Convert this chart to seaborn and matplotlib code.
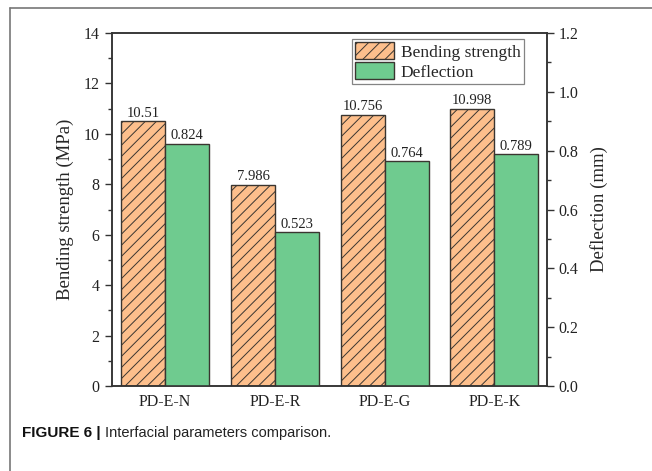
import matplotlib
matplotlib.use("Agg")
import matplotlib.pyplot as plt
from matplotlib.lines import Line2D
from matplotlib.patches import Patch
from matplotlib.ticker import MultipleLocator, FormatStrFormatter
import pandas as pd
import seaborn as sns

# Data
samples = ["PD-E-N", "PD-E-R", "PD-E-G", "PD-E-K"]
series = ["Bending strength", "Deflection"]
bending = [10.51, 7.986, 10.756, 10.998]      # MPa
deflection = [0.824, 0.523, 0.764, 0.789]     # mm

orange = "#FDBF8C"
green = "#6FCB8F"
edge = "#3A3530"
palette = {series[0]: orange, series[1]: green}

sns.set_theme(style="ticks")
plt.rcParams["font.family"] = ["Liberation Serif", "DejaVu Serif"]
plt.rcParams["hatch.color"] = "#6B4A2E"
plt.rcParams["hatch.linewidth"] = 0.7

df_b = pd.DataFrame({"sample": samples, "series": series[0], "value": bending})
df_d = pd.DataFrame({"sample": samples, "series": series[1], "value": deflection})

fig = plt.figure(figsize=(6.52, 4.71), dpi=100)
ax = fig.add_axes([111.5 / 652, 1 - 386 / 471, (547 - 111.5) / 652, (386 - 33) / 471])

sns.barplot(data=df_b, x="sample", y="value", hue="series", order=samples,
            hue_order=series, palette=palette, width=0.8, dodge=True,
            saturation=1, edgecolor=edge, linewidth=1.0, legend=False, ax=ax)
for p in ax.patches:
    p.set_hatch("///")

ax2 = ax.twinx()
sns.barplot(data=df_d, x="sample", y="value", hue="series", order=samples,
            hue_order=series, palette=palette, width=0.8, dodge=True,
            saturation=1, edgecolor=edge, linewidth=1.0, legend=False, ax=ax2)

for c in ax.containers:
    ax.bar_label(c, fmt="{:g}", padding=1, fontsize=10.5, color="#222222")
for c in ax2.containers:
    ax2.bar_label(c, fmt="{:g}", padding=1, fontsize=10.5, color="#222222")

ax.set_xlim(-0.49, 3.48)
ax.set_ylim(0, 14)
ax2.set_ylim(0, 1.2)
ax.yaxis.set_major_locator(MultipleLocator(2))
ax.yaxis.set_minor_locator(MultipleLocator(1))
ax2.yaxis.set_major_locator(MultipleLocator(0.2))
ax2.yaxis.set_minor_locator(MultipleLocator(0.1))
ax2.yaxis.set_major_formatter(FormatStrFormatter("%.1f"))

ax.set_xlabel("")
ax2.set_xlabel("")
ax.set_ylabel("Bending strength (MPa)", fontsize=13.5, labelpad=7)
ax2.set_ylabel("Deflection (mm)", fontsize=13.5, labelpad=8)

for a in (ax, ax2):
    for s in a.spines.values():
        s.set_visible(True)
        s.set_color("#333333")
        s.set_linewidth(1.1)
    a.tick_params(axis="y", which="major", direction="out", length=5, width=1.0,
                  labelsize=11.5, colors="#333333", labelcolor="#222222")
    a.tick_params(axis="y", which="minor", direction="out", length=3, width=1.0,
                  colors="#333333")
    a.tick_params(axis="x", length=0, labelsize=11.5, labelcolor="#222222", pad=6)

handles = [Patch(facecolor=orange, edgecolor=edge, hatch="///", label=series[0]),
           Patch(facecolor=green, edgecolor=edge, label=series[1])]
leg = ax2.legend(handles=handles, loc="upper left", bbox_to_anchor=(0.552, 0.983),
                 fontsize=12.5, frameon=True, fancybox=False, handlelength=2.25,
                 handleheight=1.1, handletextpad=0.35, borderpad=0.2,
                 labelspacing=0.1, borderaxespad=0)
leg.get_frame().set_edgecolor("#666666")
leg.get_frame().set_linewidth(0.9)

# Panel frame lines
fig.add_artist(Line2D([10 / 652, 1], [1 - 8 / 471, 1 - 8 / 471], color="#777777", lw=1.2))
fig.add_artist(Line2D([10 / 652, 10 / 652], [0, 1 - 8 / 471], color="#777777", lw=1.2))

# Caption
fig.text(22 / 652, 1 - 433 / 471, "FIGURE 6 |", fontsize=11, fontweight="bold",
         family=["Liberation Sans", "DejaVu Sans"], color="#111111", va="center")
fig.text(105 / 652, 1 - 433 / 471, "Interfacial parameters comparison.", fontsize=10.5,
         family=["Liberation Sans", "DejaVu Sans"], color="#222222", va="center")

fig.savefig("out.png", dpi=100)
